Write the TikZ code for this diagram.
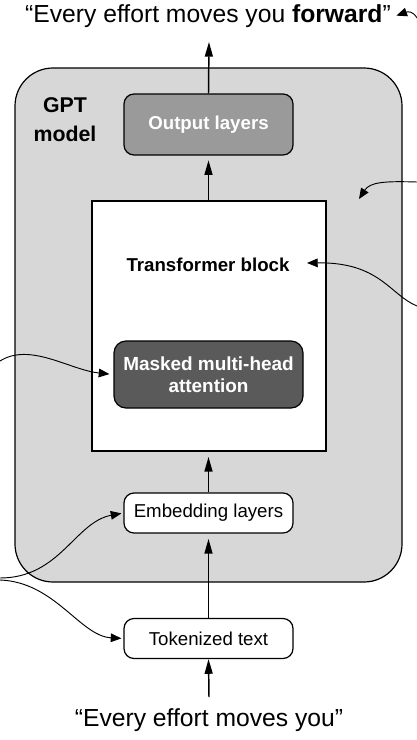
\documentclass[tikz,border=0pt]{standalone}
\usepackage{fontspec}
\setmainfont{Liberation Sans}
\usetikzlibrary{arrows.meta}
\definecolor{gptfill}{HTML}{D7D7D7}
\definecolor{outfill}{HTML}{9A9A9A}
\definecolor{attnfill}{HTML}{5A5A5A}
\tikzset{
  quote/.style={inner sep=0pt, font=\fontsize{18.5}{22}\selectfont},
  graybox/.style={draw=black, line width=0.9pt, rounded corners=7.5pt, fill=outfill,
    text=white, font=\bfseries\fontsize{14}{16}\selectfont,
    minimum width=126.75pt, minimum height=45.75pt},
  attnbox/.style={draw=black, line width=0.9pt, rounded corners=9pt, fill=attnfill,
    text=white, align=center, font=\bfseries\fontsize{14.2}{16.5}\selectfont,
    minimum width=141.75pt, minimum height=50.25pt},
  plainbox/.style={draw=black, line width=0.9pt, rounded corners=7.5pt, fill=white,
    font=\fontsize{14}{16}\selectfont, minimum width=126.75pt, minimum height=30pt},
  flow/.style={line width=1.1pt, -{Triangle[length=11pt,width=6pt]}},
  note/.style={line width=0.7pt, -{Triangle[length=8pt,width=6.5pt]}},
}
\begin{document}
\begin{tikzpicture}[x=0.75pt,y=-0.75pt]
\useasboundingbox (0,0) rectangle (417,740);

% outer model container
\node[draw=black, line width=0.9pt, fill=gptfill, rounded corners=28.5pt,
      minimum width=290.25pt, minimum height=385.5pt] (gpt) at (208.5,325) {};
\node[anchor=base, align=center, font=\bfseries\fontsize{16}{21.75}\selectfont]
      (gptlabel) at (65,141) {GPT\\model};

% stacked layers
\node[graybox] (output) at (208.5,124.5) {Output layers};
\node[draw=black, line width=0.9pt, fill=white, minimum width=175.5pt,
      minimum height=187.5pt] (tblock) at (209,326) {};
\node[anchor=base, inner sep=0pt, font=\bfseries\fontsize{14}{16}\selectfont] (tlabel)
      at (208,271) {Transformer block};
\node[attnbox] (attn) at (208.5,374.5) {Masked multi-head\\attention};
\node[plainbox] (embed) at (208.5,513) {Embedding layers};
\node[plainbox] (token) at (208.5,638.5) {Tokenized text};

% input and output text
\node[quote, anchor=base] (outtext) at (208,22) {“Every effort moves you \textbf{forward}”};
\node[quote, anchor=base] (intext) at (209,726) {“Every effort moves you”};

% main data flow
\coordinate (outtip) at (209,42);
\coordinate (intail) at (209,697);
\draw[flow] (intail) -- (token.south);
\draw[flow, shorten >=4pt] (token.north) -- (embed.south);
\draw[flow, shorten >=4pt] (embed.north) -- (tblock.south -| embed.north);
\draw[flow, shorten >=3.5pt] (tblock.north -| output.south) -- (output.south);
\draw[flow] (output.north) -- (outtip);

% annotation leaders entering from the margins
\coordinate (r1) at (417,18);
\coordinate (r2) at (417,182);
\coordinate (r3) at (417,306);
\coordinate (l1) at (0,361);
\coordinate (l2) at (0,578);
\coordinate (l3) at (0,580);
\coordinate (gptspot) at (359,199);
\draw[note] (r1) .. controls (413,11) and (408,11.5) .. ([xshift=4pt]outtext.east);
\draw[note] (r2) .. controls (385,181) and (370,182) .. (gptspot);
\draw[note] (r3) .. controls (390,295) and (380,262) .. ([xshift=13pt,yshift=1pt]tlabel.east);
\draw[note, shorten >=3pt] (l1) .. controls (30,342) and (70,370) .. (attn.west);
\draw[note, shorten >=1.5pt] (l2) .. controls (60,578) and (75,522) .. (embed.west);
\draw[note, shorten >=1.5pt] (l3) .. controls (55,582) and (80,636) .. (token.west);
\end{tikzpicture}
\end{document}
